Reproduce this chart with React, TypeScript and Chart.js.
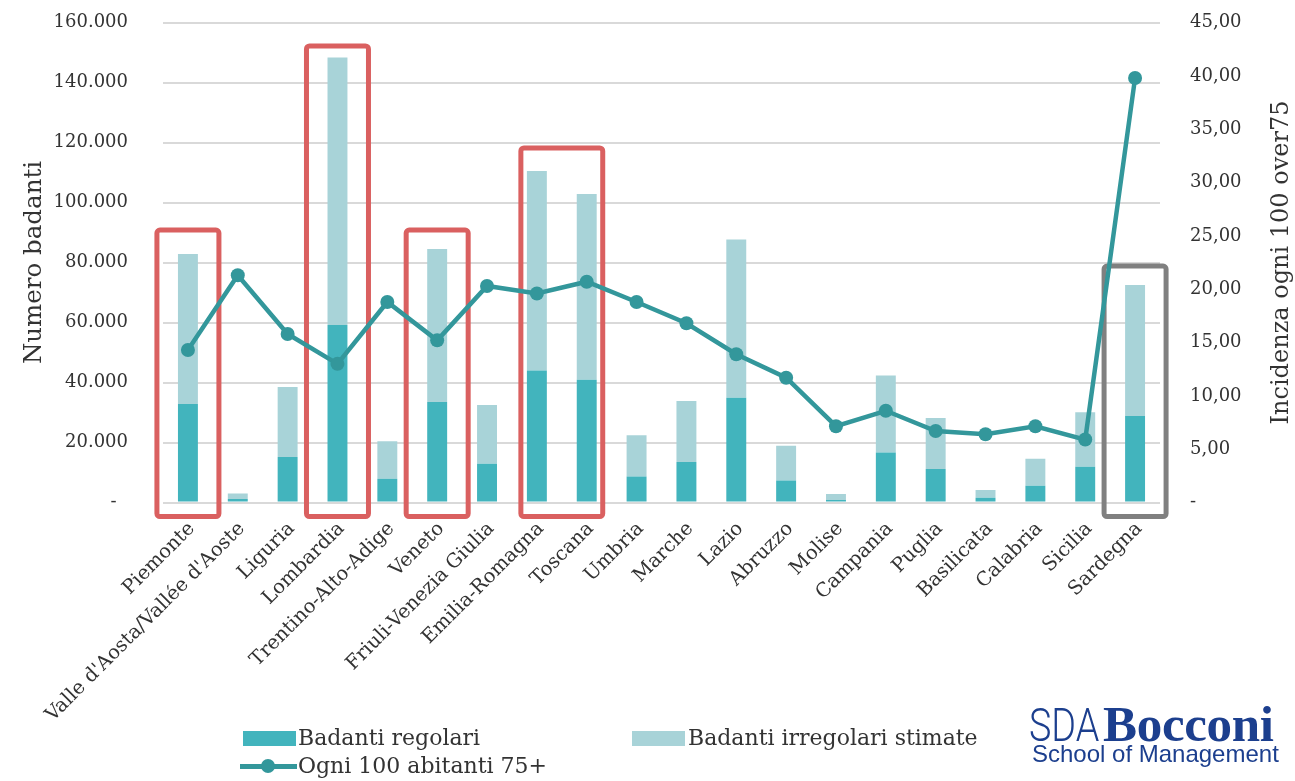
import React, { useEffect, useRef } from 'react';
import { Chart, registerables } from 'chart.js';

Chart.register(...registerables);

const regions = [
  'Piemonte', "Valle d'Aosta/Vallée d'Aoste", 'Liguria', 'Lombardia', 'Trentino-Alto-Adige',
  'Veneto', 'Friuli-Venezia Giulia', 'Emilia-Romagna', 'Toscana', 'Umbria', 'Marche', 'Lazio',
  'Abruzzo', 'Molise', 'Campania', 'Puglia', 'Basilicata', 'Calabria', 'Sicilia', 'Sardegna',
];

const badantiRegolari = [
  32800, 1200, 15200, 59200, 7900, 33500, 12900, 44000, 40900, 8700,
  13500, 34900, 7300, 800, 16700, 11200, 1600, 5600, 11900, 28800,
];

const badantiIrregolari = [
  50000, 1800, 23300, 89100, 12500, 51000, 19600, 66500, 61900, 13700,
  20300, 52800, 11600, 2000, 25600, 17000, 2600, 9000, 18200, 43700,
];

const ogni100Abitanti75 = [
  14.3, 21.3, 15.8, 13.0, 18.8, 15.2, 20.3, 19.6, 20.7, 18.8,
  16.8, 13.9, 11.7, 7.15, 8.6, 6.7, 6.4, 7.15, 5.9, 39.8,
];

const leftTickLabels = ['-  ', '20.000', '40.000', '60.000', '80.000', '100.000', '120.000', '140.000', '160.000'];
const rightTickLabels = ['-', '5,00', '10,00', '15,00', '20,00', '25,00', '30,00', '35,00', '40,00', '45,00'];

const RED = '#DA6060';
const GREY = '#808080';

// highlight frames: category index range and top value (left axis units)
const highlights = [
  { from: 0, to: 0, top: 90800, bottom: -4700, color: RED, pad: 31 },
  { from: 3, to: 3, top: 152200, bottom: -4700, color: RED, pad: 31 },
  { from: 5, to: 5, top: 90800, bottom: -4700, color: RED, pad: 31 },
  { from: 7, to: 8, top: 118200, bottom: -4700, color: RED, pad: 16 },
  { from: 19, to: 19, top: 78800, bottom: -4700, color: GREY, pad: 31 },
];

const FONT = "'DejaVu Serif', serif";
const TEXT = '#333333';
const C_REG = '#42B4BD';
const C_IRR = '#A8D3D8';
const C_LINE = '#33979B';

const boxPlugin = {
  id: 'highlightBoxes',
  beforeDatasetsDraw(chart: any) {
    const { ctx, scales } = chart;
    const x = scales.x;
    const y = scales.y;
    highlights.forEach((h) => {
      const x0 = x.getPixelForValue(h.from) - h.pad;
      const x1 = x.getPixelForValue(h.to) + h.pad;
      const y0 = y.getPixelForValue(h.top);
      const y1 = y.getPixelForValue(h.bottom);
      ctx.save();
      ctx.strokeStyle = h.color;
      ctx.lineWidth = 5;
      ctx.lineJoin = 'round';
      ctx.beginPath();
      if (ctx.roundRect) ctx.roundRect(x0, y0, x1 - x0, y1 - y0, 3);
      else ctx.rect(x0, y0, x1 - x0, y1 - y0);
      ctx.stroke();
      ctx.restore();
    });
  },
};

const rightTitlePlugin = {
  id: 'rightTitle',
  afterDraw(chart: any) {
    const { ctx, chartArea } = chart;
    ctx.save();
    ctx.translate(chart.width - 13, (chartArea.top + chartArea.bottom) / 2);
    ctx.rotate(-Math.PI / 2);
    ctx.font = `24px ${FONT}`;
    ctx.fillStyle = TEXT;
    ctx.textAlign = 'center';
    ctx.textBaseline = 'middle';
    ctx.fillText('Incidenza ogni 100 over75', 0, 0);
    ctx.restore();
  },
};

const noPad = (s: any) => {
  s.paddingTop = 0;
  s.paddingBottom = 0;
};

export default function App() {
  const canvasRef = useRef<HTMLCanvasElement | null>(null);

  useEffect(() => {
    if (!canvasRef.current) return;
    const chart = new Chart(canvasRef.current, {
      type: 'bar',
      data: {
        labels: regions,
        datasets: [
          {
            type: 'line',
            label: 'Ogni 100 abitanti 75+',
            data: ogni100Abitanti75,
            yAxisID: 'y1',
            borderColor: C_LINE,
            backgroundColor: C_LINE,
            borderWidth: 4.5,
            pointRadius: 7,
            pointBorderWidth: 0,
            pointBackgroundColor: C_LINE,
            tension: 0,
            order: 0,
          } as any,
          {
            type: 'bar',
            label: 'Badanti regolari',
            data: badantiRegolari,
            backgroundColor: C_REG,
            yAxisID: 'y',
            stack: 's',
            barPercentage: 0.4,
            categoryPercentage: 1,
            order: 1,
          },
          {
            type: 'bar',
            label: 'Badanti irregolari stimate',
            data: badantiIrregolari,
            backgroundColor: C_IRR,
            yAxisID: 'y',
            stack: 's',
            barPercentage: 0.4,
            categoryPercentage: 1,
            order: 1,
          },
        ],
      },
      options: {
        animation: false,
        responsive: true,
        maintainAspectRatio: false,
        layout: { padding: { top: 22.5, left: 0, right: 0, bottom: 0 } },
        plugins: {
          legend: { display: false },
          tooltip: { enabled: false },
        },
        scales: {
          x: {
            stacked: true,
            grid: { display: false },
            border: { display: false },
            ticks: {
              autoSkip: false,
              maxRotation: 45,
              minRotation: 45,
              labelOffset: 4,
              padding: 7,
              color: TEXT,
              font: { family: FONT, size: 19.5 },
            },
            afterFit: (s: any) => {
              s.height = 278.5;
              s.paddingLeft = 0;
              s.paddingRight = 0;
            },
          },
          y: {
            type: 'linear',
            position: 'left',
            stacked: true,
            min: 0,
            max: 160000,
            ticks: {
              stepSize: 20000,
              padding: 35,
              color: TEXT,
              font: { family: FONT, size: 18 },
              callback: (_v: any, i: number) => leftTickLabels[i],
            },
            grid: { color: '#D9D9D9', lineWidth: 2, drawTicks: false },
            border: { display: false },
            title: {
              display: true,
              text: 'Numero badanti',
              color: TEXT,
              font: { family: FONT, size: 24.5 },
              padding: { top: 20, bottom: 0 },
            },
            afterFit: (s: any) => {
              s.width = 163;
              noPad(s);
            },
          },
          y1: {
            type: 'linear',
            position: 'right',
            min: 0,
            max: 45,
            ticks: {
              stepSize: 5,
              padding: 30,
              color: TEXT,
              font: { family: FONT, size: 18 },
              callback: (_v: any, i: number) => rightTickLabels[i],
            },
            grid: { display: false, drawTicks: false },
            border: { display: false },
            afterFit: (s: any) => {
              s.width = 135;
              noPad(s);
            },
          },
        },
      } as any,
      plugins: [boxPlugin, rightTitlePlugin],
    });
    return () => chart.destroy();
  }, []);

  const legendText: React.CSSProperties = {
    position: 'absolute',
    fontFamily: FONT,
    fontSize: 22,
    color: TEXT,
    lineHeight: '26px',
    whiteSpace: 'nowrap',
  };

  return (
    <div style={{ position: 'absolute', left: 0, top: 0, width: 1295, height: 781, background: '#fff', overflow: 'hidden' }}>
      <div style={{ position: 'absolute', left: 0, top: 0, width: 1295, height: 781 }}>
        <canvas ref={canvasRef} />
      </div>
      {/* legend */}
      <div style={{ position: 'absolute', left: 243, top: 731, width: 53, height: 15, background: C_REG }} />
      <div style={{ ...legendText, left: 298, top: 725 }}>Badanti regolari</div>
      <div style={{ position: 'absolute', left: 632, top: 731, width: 53, height: 15, background: C_IRR }} />
      <div style={{ ...legendText, left: 688, top: 725 }}>Badanti irregolari stimate</div>
      <div style={{ position: 'absolute', left: 240, top: 764, width: 57, height: 5, background: C_LINE }} />
      <div style={{ position: 'absolute', left: 261, top: 759, width: 14, height: 14, borderRadius: 7, background: C_LINE }} />
      <div style={{ ...legendText, left: 298, top: 753 }}>Ogni 100 abitanti 75+</div>
      {/* logo */}
      <div style={{ position: 'absolute', left: 1029, top: 695, whiteSpace: 'nowrap', color: '#1C3F8E' }}>
        <span style={{ display: 'inline-block', fontFamily: "'Roboto', sans-serif", fontWeight: 300, fontSize: 46, transform: 'scaleX(0.82)', transformOrigin: 'left center', width: 68 }}>SDA</span>
        <span style={{ display: 'inline-block', fontFamily: "'Liberation Serif', serif", fontWeight: 700, fontSize: 51, letterSpacing: -0.3, marginLeft: 6 }}>Bocconi</span>
      </div>
      <div style={{ position: 'absolute', left: 1032, top: 740, whiteSpace: 'nowrap', color: '#1C3F8E', fontFamily: "'Liberation Sans', Arial, sans-serif", fontSize: 24 }}>
        School of Management
      </div>
    </div>
  );
}
